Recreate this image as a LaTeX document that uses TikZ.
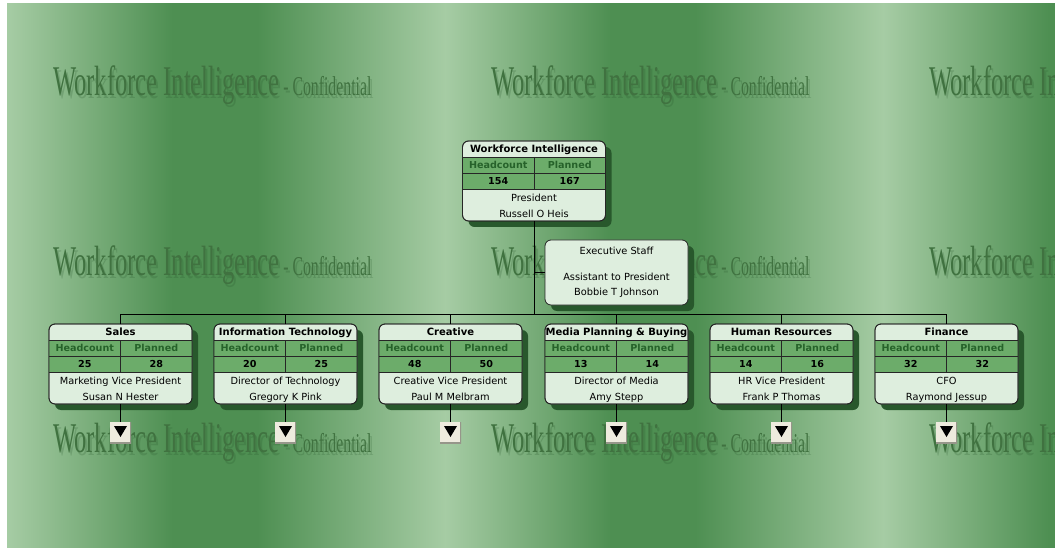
\documentclass[tikz,border=0pt]{standalone}
\usepackage{fontspec}
\newfontfamily\uifont{DejaVu Sans}
\newfontfamily\wmfont[FakeStretch=0.58]{Liberation Serif}
\usetikzlibrary{shadows}

\definecolor{bglight}{RGB}{166,204,164}
\definecolor{bgdark}{RGB}{78,143,82}
\definecolor{boxlight}{RGB}{222,238,222}
\definecolor{rowgreen}{RGB}{108,172,106}
\definecolor{hdrtext}{RGB}{38,98,42}
\definecolor{shadowgreen}{RGB}{40,88,44}
\definecolor{wmgreen}{RGB}{64,114,64}
\definecolor{btnfill}{RGB}{238,235,222}
\definecolor{btnedge}{RGB}{150,150,138}

\tikzset{
  unitbox/.style={rounded corners=6pt, fill=boxlight, draw=black!85, line width=0.8pt,
    minimum width=143pt, inner sep=0pt, outer sep=0pt,
    drop shadow={shadow xshift=6pt, shadow yshift=-6pt, fill=shadowgreen, opacity=1}},
  boxrim/.style={draw=black!85, line width=0.8pt, rounded corners=6pt},
  rowline/.style={draw=black!85, line width=0.8pt},
  link/.style={draw=black, line width=0.8pt},
  ttl/.style={anchor=base, inner sep=0pt, font=\uifont\bfseries\fontsize{10}{12}\selectfont},
  hdr/.style={anchor=base, inner sep=0pt, text=hdrtext, font=\uifont\bfseries\fontsize{9.6}{12}\selectfont},
  num/.style={anchor=base, inner sep=0pt, font=\uifont\bfseries\fontsize{9.6}{12}\selectfont},
  txt/.style={anchor=base, inner sep=0pt, font=\uifont\fontsize{9.8}{12}\selectfont},
  wm/.style={anchor=base west, inner sep=0pt, text=wmgreen, font=\wmfont},
  wmghost/.style={anchor=base west, inner sep=0pt, text=shadowgreen, opacity=0.22, font=\wmfont},
  morebtn/.style={fill=btnfill, minimum width=21pt, minimum height=21pt, inner sep=0pt, outer sep=0pt,
    path picture={
      \draw[btnedge, line width=1.2pt] (path picture bounding box.south west) -- (path picture bounding box.south east)
        -- (path picture bounding box.north east);
      \fill[black] ([shift={(-6.5pt,6.5pt)}]path picture bounding box.center)
        -- ([shift={(6.5pt,6.5pt)}]path picture bounding box.center)
        -- ([shift={(0pt,-4.5pt)}]path picture bounding box.center) -- cycle;
    }},
}

% unit card: name, centre x, top y, title, headcount, planned, role, person
\newcommand\unitcard[8]{%
  \node[unitbox, minimum height=80pt] (#1) at (#2,#3+40) {};
  \fill[rowgreen] (#2-71.5,#3+16) rectangle (#2+71.5,#3+48);
  \draw[rowline] (#2-71.5,#3+16) -- (#2+71.5,#3+16)
    (#2-71.5,#3+32) -- (#2+71.5,#3+32)
    (#2-71.5,#3+48) -- (#2+71.5,#3+48)
    (#2,#3+16) -- (#2,#3+48);
  \draw[boxrim] (#1.north west) rectangle (#1.south east);
  \node[ttl] (#1-title) at (#2,#3+11.7) {#4};
  \node[hdr] (#1-hclabel) at (#2-35.75,#3+27.6) {Headcount};
  \node[hdr] (#1-pllabel) at (#2+35.75,#3+27.6) {Planned};
  \node[num] (#1-hc) at (#2-35.75,#3+43.6) {#5};
  \node[num] (#1-pl) at (#2+35.75,#3+43.6) {#6};
  \node[txt] (#1-role) at (#2,#3+60.5) {#7};
  \node[txt] (#1-name) at (#2,#3+76.5) {#8};
}

\begin{document}
\begin{tikzpicture}[x=1pt, y=-1pt]
\useasboundingbox (0,0) rectangle (1055,548);
\fill[white] (0,0) rectangle (1055,548);

% banded green backdrop with the repeated watermark
\begin{scope}
  \clip (7,4) rectangle (1055,548);
  \foreach \t in {7,445,883} {
    \shade[left color=bglight, right color=bgdark] (\t,0) rectangle (\t+165.5,548);
    \fill[bgdark] (\t+165,0) rectangle (\t+250.5,548);
    \shade[left color=bgdark, right color=bglight] (\t+250,0) rectangle (\t+438.5,548);
  }
  \foreach \cx in {53,491,929} {
    \foreach \by in {96,275,452} {
      \node[wmghost] (wmg-\cx-\by) at (\cx+2,\by+3)
        {{\fontsize{42.3}{44}\selectfont Workforce Intelligence}{\fontsize{27.2}{28}\selectfont\ - Confidential}};
      \node[wm] (wm-\cx-\by) at (\cx,\by)
        {{\fontsize{42.3}{44}\selectfont Workforce Intelligence}{\fontsize{27.2}{28}\selectfont\ - Confidential}};
    }
  }
\end{scope}

% cards
\unitcard{root}{534}{141}{Workforce Intelligence}{154}{167}{President}{Russell O Heis}

\node[unitbox, minimum height=65pt] (exec) at (616.5,272.5) {};
\node[txt] (exec-title) at (616.5,254.6) {Executive Staff};
\node[txt] (exec-role) at (616.5,280.6) {Assistant to President};
\node[txt] (exec-name) at (616.5,295.6) {Bobbie T Johnson};

\unitcard{sales}{120.5}{324}{Sales}{25}{28}{Marketing Vice President}{Susan N Hester}
\unitcard{it}{285.5}{324}{Information Technology}{20}{25}{Director of Technology}{Gregory K Pink}
\unitcard{creative}{450.5}{324}{Creative}{48}{50}{Creative Vice President}{Paul M Melbram}
\unitcard{media}{616.5}{324}{Media Planning \& Buying}{13}{14}{Director of Media}{Amy Stepp}
\unitcard{hr}{781.5}{324}{Human Resources}{14}{16}{HR Vice President}{Frank P Thomas}
\unitcard{finance}{946.5}{324}{Finance}{32}{32}{CFO}{Raymond Jessup}

% expand buttons
\foreach \d/\cx in {sales/120.5, it/285.5, creative/450.5, media/616.5, hr/781.5, finance/946.5} {
  \node[morebtn] (\d-more) at (\cx,432.5) {};
}

% connectors
\coordinate (bus) at (120.5,314);
\draw[link] (root.south) -- (root.south |- bus);
\draw[link] (exec.west) -- (exec.west -| root.south);
\draw[link] (sales.north |- bus) -- (finance.north |- bus);
\foreach \d in {sales, it, creative, media, hr, finance} {
  \draw[link] (\d.north) -- (\d.north |- bus);
  \draw[link] (\d.south) -- (\d-more.north);
}
\end{tikzpicture}
\end{document}
